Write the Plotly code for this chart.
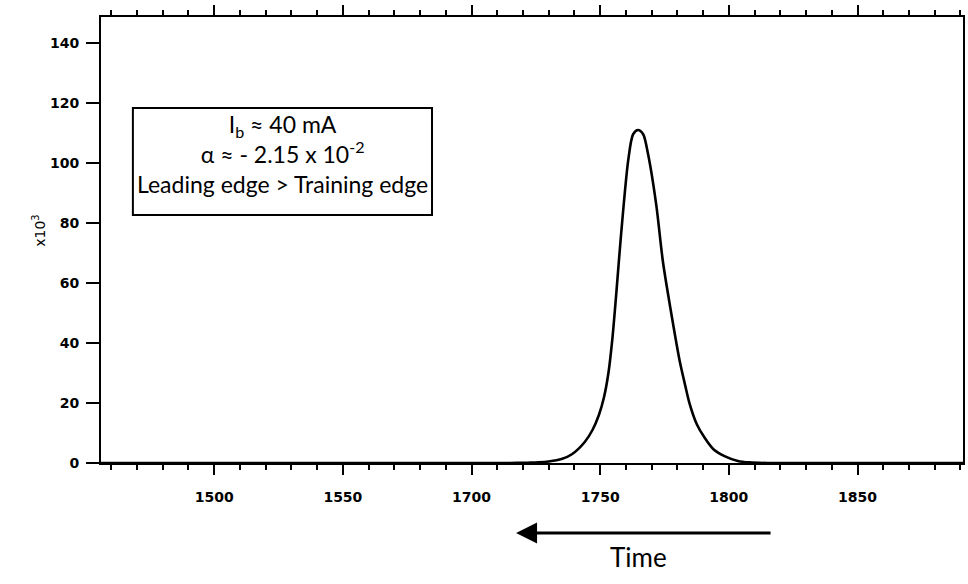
import plotly.graph_objects as go

# Data (time axis, signal in units of 10^3)
time = [1556, 1600, 1650, 1700, 1715, 1722, 1726, 1730, 1735, 1739, 1744, 1747,
        1749.5, 1751.5, 1753.2, 1754.8, 1756.3, 1758, 1760.9, 1762.8, 1764.7,
        1766.7, 1768.6, 1771.8, 1774.4, 1777.6, 1780.9, 1783, 1784.8, 1787.5,
        1790.6, 1794, 1798.3, 1803.5, 1808, 1815, 1850, 1891]
signal = [0, 0, 0, 0, 0, 0.1, 0.2, 0.5, 1.3, 2.9, 7.0, 11,
          16, 22, 30, 42, 57, 75, 101, 109.6, 111,
          109.6, 103, 86, 67, 50, 34, 26, 19.6, 13,
          8.4, 4.6, 2.3, 0.7, 0.2, 0, 0, 0]

x_tickvals = [1600, 1650, 1700, 1750, 1800, 1850]
x_ticktext = ["1500", "1550", "1700", "1750", "1800", "1850"]
y_tickvals = [0, 20, 40, 60, 80, 100, 120, 140]
y_ticktext = ["0", "20", "40", "60", "80", "100", "120", "140"]

box_lines = ["I<sub>b</sub> ≈ 40 mA",
             "α ≈ - 2.15 x 10<sup>-2</sup>",
             "Leading edge > Training edge"]

fig = go.Figure()
fig.add_trace(go.Scatter(x=time, y=signal, mode="lines",
                         line=dict(color="black", width=2.6, shape="spline", smoothing=0.8),
                         showlegend=False, hoverinfo="skip", cliponaxis=False))

fig.update_layout(
    width=968, height=584,
    margin=dict(l=101, r=3, t=17, b=121),
    paper_bgcolor="white", plot_bgcolor="white",
    font=dict(family="DejaVu Sans", color="black"),
    xaxis=dict(range=[1556, 1891], showgrid=False, zeroline=False,
               showline=True, linecolor="black", linewidth=2, mirror="ticks",
               tickmode="array", tickvals=x_tickvals, ticktext=x_ticktext,
               ticks="outside", ticklen=10, tickwidth=1.5, tickcolor="black",
               minor=dict(tickmode="linear", tick0=1600, dtick=10, ticks="outside",
                          ticklen=5, tickwidth=1.5, tickcolor="black"),
               tickfont=dict(family="DejaVu Sans", size=14, weight="bold"),
               ticklabelstandoff=10),
    yaxis=dict(range=[0, 148.7], showgrid=False, zeroline=False,
               showline=True, linecolor="black", linewidth=2, mirror=True,
               tickmode="array", tickvals=y_tickvals, ticktext=y_ticktext,
               ticks="outside", ticklen=13, tickwidth=2, tickcolor="black",
               tickfont=dict(family="DejaVu Sans", size=14, weight="bold"),
               ticklabelstandoff=4),
)

# Parameter box
fig.add_shape(type="rect", xref="paper", yref="paper",
              x0=0.037, x1=0.384, y0=0.556, y1=0.796,
              line=dict(color="black", width=2), fillcolor="white", layer="above")
fig.add_annotation(xref="paper", yref="paper", x=0.2105, y=0.692,
                   text="<br>".join(box_lines), showarrow=False,
                   xanchor="center", yanchor="middle", align="center",
                   font=dict(family="Lato", size=23, color="black"))

# y-axis unit label
fig.add_annotation(xref="paper", yref="paper", x=-0.085, y=0.52,
                   text="x10<sup>3</sup>", showarrow=False, textangle=-90,
                   font=dict(family="DejaVu Sans", size=14, color="black"))

# Time arrow and label
fig.add_annotation(xref="paper", yref="paper", x=0.4815, y=-0.157,
                   ax=256, ay=0, text="", showarrow=True,
                   arrowhead=2, arrowsize=1.4, arrowwidth=3, arrowcolor="black")
fig.add_annotation(xref="paper", yref="paper", x=0.624, y=-0.21,
                   text="Time", showarrow=False, yanchor="middle",
                   font=dict(family="Lato", size=26, color="black"))

fig.write_html("out.html")
